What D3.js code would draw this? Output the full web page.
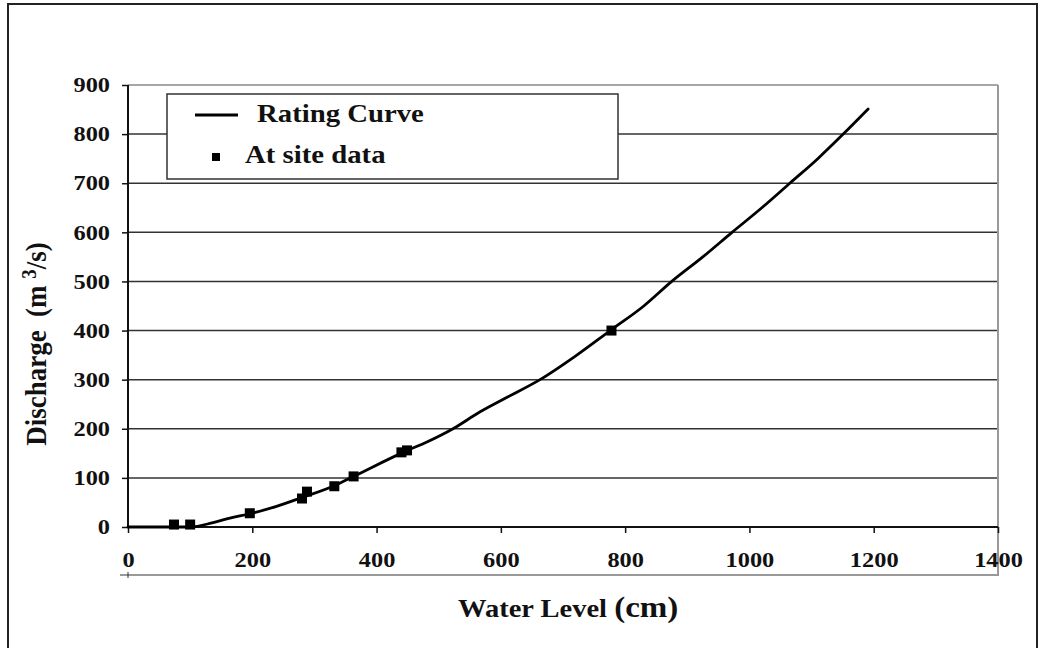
<!DOCTYPE html>
<html>
<head>
<meta charset="utf-8">
<script src="https://cdn.jsdelivr.net/npm/d3@7"></script>
<style>
  body { margin: 0; background: #fff; }
  text { font-family: "Liberation Serif", "Times New Roman", serif; font-weight: bold; fill: #111; }
</style>
</head>
<body>
<div id="canvas"></div>
<script>
// rating curve (water level cm, discharge m3/s)
var curveLevel = [0, 100, 137, 164, 196, 239, 280, 332, 363, 448, 481, 523, 566, 610, 663, 720, 776, 830, 875, 925, 972, 1020, 1065, 1110, 1151, 1191];
var curveFlow  = [0, 0, 9, 18, 27, 42, 60, 84, 103, 155, 173, 200, 234, 264, 300, 348, 400, 450, 500, 550, 600, 650, 700, 750, 800, 851];

// at site measurements
var siteLevel = [74, 100, 196, 280, 288, 332, 363, 440, 449, 778];
var siteFlow  = [5, 5, 28, 58, 72, 83, 103, 152, 156, 400];

var xTicks = [0, 200, 400, 600, 800, 1000, 1200, 1400];
var yTicks = [0, 100, 200, 300, 400, 500, 600, 700, 800, 900];
var legendNames = ["Rating Curve", "At site data"];

var W = 1043, H = 648;
var svg = d3.select("#canvas").append("svg")
    .attr("width", W)
    .attr("height", H);

// outer frame
svg.append("path")
    .attr("d", "M8,650 L8,4 L1037,4 L1037,650")
    .attr("fill", "none")
    .attr("stroke", "#222")
    .attr("stroke-width", 2);

var x = d3.scaleLinear().domain([0, 1400]).range([128, 998]);
var y = d3.scaleLinear().domain([0, 900]).range([527, 85]);

// grid
svg.selectAll(".grid")
    .data(yTicks.filter(d => d > 0))
    .enter()
    .append("line")
    .attr("class", "grid")
    .attr("x1", x(0))
    .attr("x2", x(1400))
    .attr("y1", d => y(d))
    .attr("y2", d => y(d))
    .attr("stroke", d => d == 900 ? "#8a8a8a" : "#333")
    .attr("stroke-width", 1.5);

// right frame + lower line under tick labels
svg.append("path")
    .attr("d", "M" + x(1400) + "," + y(900) + " L" + x(1400) + ",575 L120,575")
    .attr("fill", "none")
    .attr("stroke", "#999")
    .attr("stroke-width", 2);
svg.append("line")
    .attr("x1", x(0)).attr("x2", x(0))
    .attr("y1", 572).attr("y2", 578)
    .attr("stroke", "#333");

var xAxis = svg.append("g")
    .attr("transform", "translate(0," + y(0) + ")")
    .call(d3.axisBottom(x).tickValues(xTicks).tickSize(6).tickPadding(19).tickFormat(d3.format("d")));
var yAxis = svg.append("g")
    .attr("transform", "translate(" + x(0) + ",0)")
    .call(d3.axisLeft(y).tickValues(yTicks).tickSize(6).tickPadding(12).tickFormat(d3.format("d")));

[xAxis, yAxis].forEach(function(a) {
    a.select(".domain").attr("stroke", "#111").attr("stroke-width", 2);
    a.selectAll(".tick line").attr("stroke", "#111").attr("stroke-width", 1.5);
    a.selectAll(".tick text")
        .attr("fill", "#111")
        .style("font-family", "'Liberation Serif', serif")
        .style("font-weight", "bold")
        .style("font-size", "21px")
        .each(function() {
            var t = d3.select(this);
            var tx = +t.attr("x") || 0, ty = +t.attr("y") || 0;
            t.attr("transform", "translate(" + tx + "," + ty + ") scale(1.16,1)")
                .attr("x", 0).attr("y", 0);
        });
});
xAxis.select(".domain").attr("d", "M" + x(0) + ",0H" + x(1400));
yAxis.select(".domain").attr("d", "M0," + y(0) + "V" + y(900));

// rating curve
var line = d3.line()
    .x((d, i) => x(curveLevel[i]))
    .y((d, i) => y(curveFlow[i]))
    .curve(d3.curveMonotoneX);

svg.append("path")
    .datum(curveLevel)
    .attr("d", line)
    .attr("fill", "none")
    .attr("stroke", "#000")
    .attr("stroke-width", 2.8)
    .attr("stroke-linejoin", "round")
    .attr("stroke-linecap", "round");

svg.selectAll(".pt")
    .data(siteLevel)
    .enter()
    .append("rect")
    .attr("class", "pt")
    .attr("x", (d, i) => x(d) - 5)
    .attr("y", (d, i) => y(siteFlow[i]) - 5)
    .attr("width", 10)
    .attr("height", 10)
    .attr("fill", "#000");

// legend
var legend = svg.append("g");
legend.append("rect")
    .attr("x", 167).attr("y", 94)
    .attr("width", 451).attr("height", 85)
    .attr("fill", "#fff")
    .attr("stroke", "#333")
    .attr("stroke-width", 1.5);
legend.append("line")
    .attr("x1", 195).attr("x2", 238)
    .attr("y1", 115).attr("y2", 115)
    .attr("stroke", "#000").attr("stroke-width", 2.8);
legend.append("rect")
    .attr("x", 212).attr("y", 153)
    .attr("width", 8).attr("height", 8)
    .attr("fill", "#000");
legend.append("text")
    .attr("transform", "translate(257,122) scale(1.15,1)")
    .style("font-size", "25px")
    .text(legendNames[0]);
legend.append("text")
    .attr("transform", "translate(245,163) scale(1.15,1)")
    .style("font-size", "25px")
    .text(legendNames[1]);

// axis titles
var xt = svg.append("text")
    .attr("transform", "translate(458,617) scale(1.14,1)")
    .style("font-size", "25px");
xt.append("tspan").text("Water Level ");
xt.append("tspan").style("font-size", "29px").text("(cm)");

var yt = svg.append("text")
    .attr("transform", "translate(46,344) rotate(-90) scale(1,1.12)")
    .attr("text-anchor", "middle")
    .style("font-size", "27px");
yt.append("tspan").text("Discharge\u00a0\u00a0(m ");
yt.append("tspan").attr("dy", -9).style("font-size", "19px").text("3");
yt.append("tspan").attr("dy", 9).text("/s)");
</script>
</body>
</html>
